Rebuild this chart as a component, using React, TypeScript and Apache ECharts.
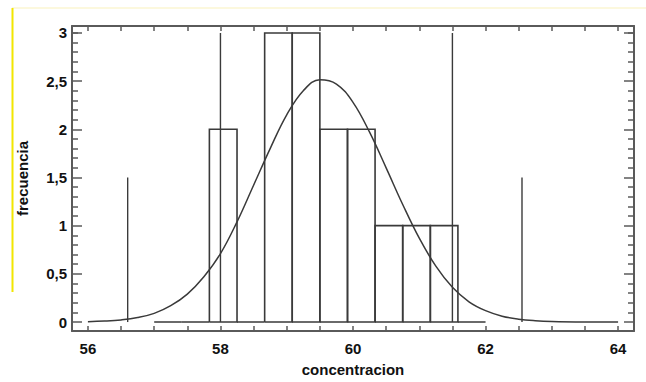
import React, { useEffect, useRef } from "react";
import * as echarts from "echarts";

// Histogram bins (concentracion) and their frequencies
const binStart = [57.0, 57.417, 57.833, 58.25, 58.667, 59.083, 59.5, 59.917, 60.333, 60.75, 61.167, 61.583];
const binEnd = [57.417, 57.833, 58.25, 58.667, 59.083, 59.5, 59.917, 60.333, 60.75, 61.167, 61.583, 62.0];
const binCount = [0, 0, 2, 0, 3, 3, 2, 2, 1, 1, 1, 0];

// Fitted curve
const curveX = [56.0, 56.25, 56.5, 56.75, 57.0, 57.25, 57.5, 57.75, 58.0, 58.25, 58.5, 58.75, 59.0, 59.25, 59.5, 59.75, 60.0, 60.25, 60.5, 60.75, 61.0, 61.25, 61.5, 61.75, 62.0, 62.25, 62.5, 62.75, 63.0, 63.5, 64.0];
const curveY = [0.004, 0.01, 0.022, 0.046, 0.09, 0.17, 0.29, 0.47, 0.71, 1.04, 1.42, 1.80, 2.15, 2.40, 2.515, 2.47, 2.28, 1.97, 1.60, 1.22, 0.87, 0.58, 0.36, 0.21, 0.118, 0.061, 0.03, 0.014, 0.006, 0.001, 0.0];

// Vertical reference lines
const refX = [56.6, 58.0, 61.5, 62.55];
const refH = [1.5, 3, 3, 1.5];

// Axis ticks / labels
const xLabels = [56, 58, 60, 62, 64];
const xTicks = [56, 56.5, 57, 57.5, 58, 58.5, 59, 59.5, 60, 60.5, 61, 61.5, 62, 62.5, 63, 63.5, 64];
const yLabels = [0, 0.5, 1, 1.5, 2, 2.5, 3];
const yMinorTicks = [0.1, 0.2, 0.3, 0.4, 0.6, 0.7, 0.8, 0.9, 1.1, 1.2, 1.3, 1.4, 1.6, 1.7, 1.8, 1.9, 2.1, 2.2, 2.3, 2.4, 2.6, 2.7, 2.8, 2.9, 3.0];

const X_MIN = 55.76;
const X_MAX = 64.24;
const Y_MIN = -0.093;
const Y_MAX = 3.072;

const FONT = "'Liberation Sans Narrow', 'Liberation Sans', Arial, sans-serif";
const FRAME = "#5a5a5a";
const INK = "#3a3a3a";

export default function App() {
  const ref = useRef<HTMLDivElement>(null);

  useEffect(() => {
    if (!ref.current) return;
    const chart = echarts.init(ref.current, null, { renderer: "svg" });

    const yBase = {
      type: "value",
      min: Y_MIN,
      max: Y_MAX,
      splitLine: { show: false },
      axisLine: { show: true, lineStyle: { color: FRAME, width: 2 } },
    };
    const xBase = {
      type: "value",
      min: X_MIN,
      max: X_MAX,
      splitLine: { show: false },
      axisLine: { show: true, onZero: false, lineStyle: { color: FRAME, width: 2 } },
    };

    const option: any = {
      animation: false,
      backgroundColor: "#ffffff",
      grid: { left: 72, right: 12, top: 26, bottom: 49, containLabel: false },
      xAxis: [
        {
          ...xBase,
          position: "bottom",
          axisTick: { show: true, inside: true, length: 5, customValues: xTicks, lineStyle: { color: FRAME, width: 1.5 } },
          axisLabel: {
            show: true,
            customValues: xLabels,
            margin: 10,
            color: "#111",
            fontWeight: "bold",
            fontSize: 15,
            fontFamily: FONT,
          },
          name: "concentracion",
          nameLocation: "middle",
          nameGap: 31,
          nameTextStyle: { color: "#111", fontWeight: "bold", fontSize: 15, fontFamily: FONT },
        },
        {
          ...xBase,
          position: "top",
          axisTick: { show: true, inside: true, length: 5, customValues: xTicks, lineStyle: { color: FRAME, width: 1.5 } },
          axisLabel: { show: false },
        },
      ],
      yAxis: [
        {
          ...yBase,
          position: "left",
          axisTick: { show: true, inside: true, length: 10, customValues: yLabels, lineStyle: { color: FRAME, width: 1.5 } },
          axisLabel: {
            show: true,
            customValues: yLabels,
            margin: 5,
            color: "#111",
            fontWeight: "bold",
            fontSize: 15,
            fontFamily: FONT,
            formatter: (v: number) => String(v).replace(".", ","),
          },
          name: "frecuencia",
          nameLocation: "middle",
          nameGap: 42,
          nameTextStyle: { color: "#111", fontWeight: "bold", fontSize: 15, fontFamily: FONT },
        },
        {
          ...yBase,
          position: "left",
          axisLine: { show: false },
          axisTick: { show: true, inside: true, length: 6, customValues: yMinorTicks, lineStyle: { color: FRAME, width: 1.5 } },
          axisLabel: { show: false },
        },
        {
          ...yBase,
          position: "right",
          axisTick: { show: true, inside: true, length: 10, customValues: yLabels, lineStyle: { color: FRAME, width: 1.5 } },
          axisLabel: { show: false },
        },
        {
          ...yBase,
          position: "right",
          axisLine: { show: false },
          axisTick: { show: true, inside: true, length: 6, customValues: yMinorTicks, lineStyle: { color: FRAME, width: 1.5 } },
          axisLabel: { show: false },
        },
      ],
      graphic: [
        { type: "line", shape: { x1: 12, y1: 8, x2: 646, y2: 8 }, style: { stroke: "#fbf6d2", lineWidth: 1.5 }, silent: true },
        { type: "line", shape: { x1: 12.5, y1: 8, x2: 12.5, y2: 292 }, style: { stroke: "#f2e600", lineWidth: 2 }, silent: true },
      ],
      series: [
        {
          type: "custom",
          xAxisIndex: 0,
          yAxisIndex: 0,
          encode: { x: [0, 1], y: 2 },
          data: binStart.map((s, i) => [s, binEnd[i], binCount[i]]),
          renderItem: (params: any, api: any) => {
            const a = api.coord([api.value(0), 0]);
            const b = api.coord([api.value(1), api.value(2)]);
            return {
              type: "polyline",
              shape: {
                points: [
                  [a[0], a[1]],
                  [a[0], b[1]],
                  [b[0], b[1]],
                  [b[0], a[1]],
                  [a[0], a[1]],
                ],
              },
              style: { fill: "none", stroke: INK, lineWidth: 1.6 },
            };
          },
          z: 2,
        },
        {
          type: "custom",
          xAxisIndex: 0,
          yAxisIndex: 0,
          encode: { x: 0, y: 1 },
          data: refX.map((x, i) => [x, refH[i]]),
          renderItem: (params: any, api: any) => {
            const a = api.coord([api.value(0), 0]);
            const b = api.coord([api.value(0), api.value(1)]);
            return {
              type: "line",
              shape: { x1: a[0], y1: a[1], x2: b[0], y2: b[1] },
              style: { stroke: INK, lineWidth: 1.4 },
            };
          },
          z: 2,
        },
        {
          type: "line",
          xAxisIndex: 0,
          yAxisIndex: 0,
          data: curveX.map((x, i) => [x, curveY[i]]),
          smooth: 0.4,
          showSymbol: false,
          symbol: "none",
          lineStyle: { color: INK, width: 1.5 },
          z: 3,
        },
      ],
    };

    chart.setOption(option);
    return () => chart.dispose();
  }, []);

  return <div ref={ref} style={{ width: 646, height: 382, position: "absolute", left: 0, top: 0 }} />;
}
